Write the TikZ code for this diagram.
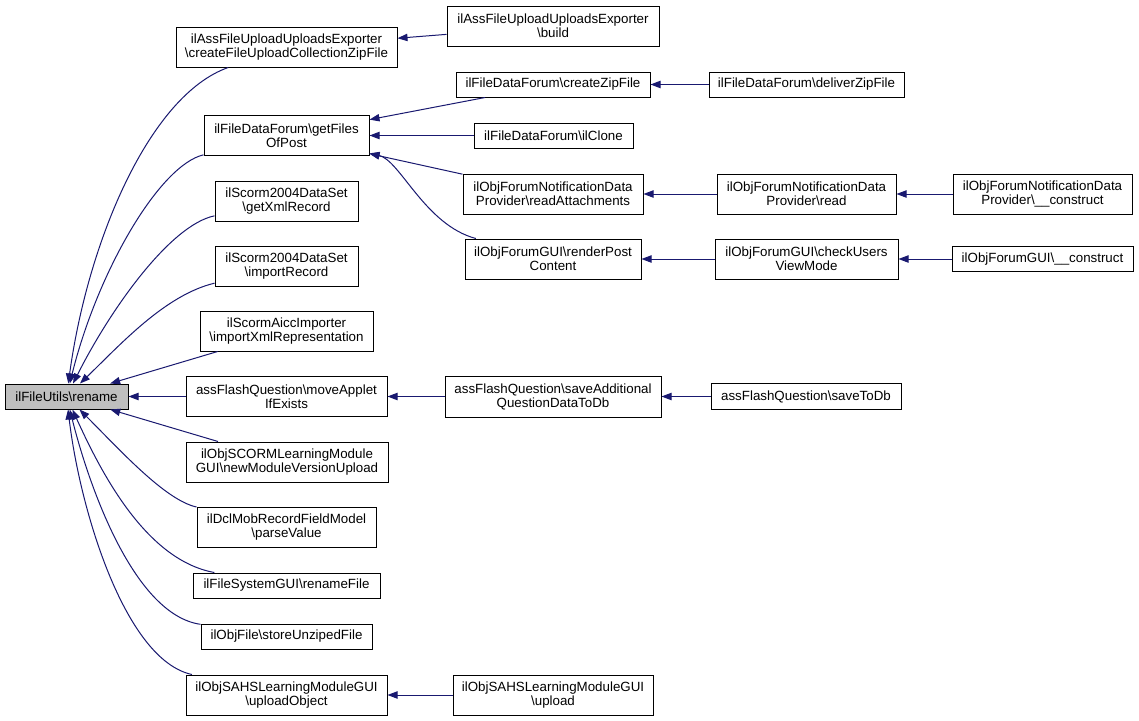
\documentclass[tikz,border=0pt]{standalone}
\usepackage{fontspec}
\setmainfont{Liberation Sans}
\usetikzlibrary{arrows.meta}
\definecolor{edgec}{HTML}{191970}
\definecolor{hl}{HTML}{BFBFBF}
\newcommand{\bs}{\textbackslash}
\begin{document}
\begin{tikzpicture}[x=0.75pt,y=-0.75pt,
 box/.style 2 args={draw=black, line width=0.75pt, minimum width=#1*0.75pt, minimum height=#2*0.75pt, inner sep=0pt, align=center, font=\fontsize{10}{10.5}\selectfont},
 ca/.style={draw=edgec, line width=0.75pt, {Triangle[length=7.5pt,width=5.5pt]}-}]
\useasboundingbox (0,0) rectangle (1139,721);
\fill[white] (0,0) rectangle (1139,721);
% column 0
\node[box={123}{25}, fill=hl] (rename) at (66.5,396.5) {ilFileUtils\bs rename};
% column 1
\node[box={221}{40}] (cfu) at (286.5,47) {ilAssFileUploadUploadsExporter\\\bs createFileUploadCollectionZipFile};
\node[box={165}{40}] (gfp) at (286.5,135.5) {ilFileDataForum\bs getFiles\\OfPost};
\node[box={143}{40}] (gxr) at (286.5,201) {ilScorm2004DataSet\\\bs getXmlRecord};
\node[box={143}{40}] (imr) at (286.5,266) {ilScorm2004DataSet\\\bs importRecord};
\node[box={173}{40}] (aicc) at (286.5,331) {ilScormAiccImporter\\\bs importXmlRepresentation};
\node[box={201}{40}] (mai) at (286.5,396.5) {assFlashQuestion\bs moveApplet\\IfExists};
\node[box={202}{40}] (scorm) at (287,462) {ilObjSCORMLearningModule\\GUI\bs newModuleVersionUpload};
\node[box={179}{40}] (dcl) at (286.5,527) {ilDclMobRecordFieldModel\\\bs parseValue};
\node[box={187}{25}] (fsg) at (286.5,585.5) {ilFileSystemGUI\bs renameFile};
\node[box={171}{25}] (objf) at (286.5,636.5) {ilObjFile\bs storeUnzipedFile};
\node[box={201}{40}] (upo) at (286.5,695) {ilObjSAHSLearningModuleGUI\\\bs uploadObject};
% column 2
\node[box={212}{40}] (build) at (553,26) {ilAssFileUploadUploadsExporter\\\bs build};
\node[box={194}{25}] (czf) at (553,84.5) {ilFileDataForum\bs createZipFile};
\node[box={159}{25}] (clone) at (553.5,135.5) {ilFileDataForum\bs ilClone};
\node[box={180}{40}] (ra) at (553,194) {ilObjForumNotificationData\\Provider\bs readAttachments};
\node[box={176}{40}] (rps) at (553,259) {ilObjForumGUI\bs renderPost\\Content};
\node[box={216}{41}] (saq) at (553,396.5) {assFlashQuestion\bs saveAdditional\\QuestionDataToDb};
\node[box={200}{40}] (upl) at (553,695) {ilObjSAHSLearningModuleGUI\\\bs upload};
% column 3
\node[box={195}{25}] (dzf) at (806.5,84.5) {ilFileDataForum\bs deliverZipFile};
\node[box={179}{40}] (read) at (806.5,194) {ilObjForumNotificationData\\Provider\bs read};
\node[box={183}{40}] (cuv) at (806.5,259) {ilObjForumGUI\bs checkUsers\\ViewMode};
\node[box={190}{26}] (std) at (806,396.5) {assFlashQuestion\bs saveToDb};
% column 4
\node[box={179}{40}] (nc) at (1042.5,194) {ilObjForumNotificationData\\Provider\bs\_\_construct};
\node[box={181}{25}] (fc) at (1042.5,259) {ilObjForumGUI\bs\_\_construct};
% edges into rename
\draw[ca] (rename) .. controls (88,240) and (150,95) .. (cfu);
\draw[ca] (rename) .. controls (98,270) and (160,165) .. (gfp);
\draw[ca] (rename) .. controls (110,310) and (170,225) .. (gxr);
\draw[ca] (rename) .. controls (120,345) and (165,295) .. (imr);
\draw[ca] (rename) -- (aicc);
\draw[ca] (rename) -- (mai);
\draw[ca] (rename) -- (scorm);
\draw[ca] (rename) .. controls (120,450) and (165,500) .. (dcl);
\draw[ca] (rename) .. controls (100,470) and (145,560) .. (fsg);
\draw[ca] (rename) .. controls (90,490) and (135,615) .. (objf);
\draw[ca] (rename) .. controls (80,510) and (125,660) .. (upo);
% other edges
\draw[ca] (cfu) -- (build);
\draw[ca] (gfp) -- (czf);
\draw[ca] (gfp) -- (clone);
\draw[ca] (gfp) -- (ra);
\draw[ca] (gfp) .. controls (400,160) and (425,225) .. (rps);
\draw[ca] (czf) -- (dzf);
\draw[ca] (ra) -- (read);
\draw[ca] (read) -- (nc);
\draw[ca] (rps) -- (cuv);
\draw[ca] (cuv) -- (fc);
\draw[ca] (mai) -- (saq);
\draw[ca] (saq) -- (std);
\draw[ca] (upo) -- (upl);
\end{tikzpicture}
\end{document}
